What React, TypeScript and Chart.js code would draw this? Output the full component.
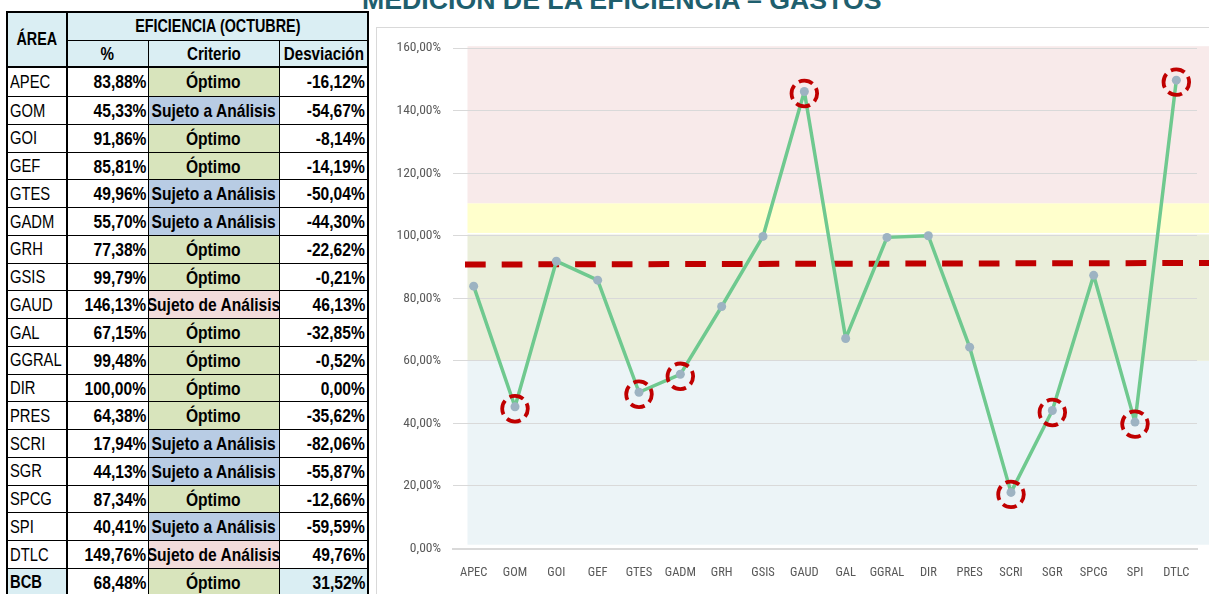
import React, { useEffect, useRef } from 'react';
import { Chart, registerables } from 'chart.js';

Chart.register(...registerables);

// ---------- DATA ----------
const areas = ['APEC', 'GOM', 'GOI', 'GEF', 'GTES', 'GADM', 'GRH', 'GSIS', 'GAUD', 'GAL', 'GGRAL', 'DIR', 'PRES', 'SCRI', 'SGR', 'SPCG', 'SPI', 'DTLC'];
const eficiencia = [83.88, 45.33, 91.86, 85.81, 49.96, 55.7, 77.38, 99.79, 146.13, 67.15, 99.48, 100.0, 64.38, 17.94, 44.13, 87.34, 40.41, 149.76];
const criterios = ['Óptimo', 'Sujeto a Análisis', 'Óptimo', 'Óptimo', 'Sujeto a Análisis', 'Sujeto a Análisis', 'Óptimo', 'Óptimo', 'Sujeto de Análisis', 'Óptimo', 'Óptimo', 'Óptimo', 'Óptimo', 'Sujeto a Análisis', 'Sujeto a Análisis', 'Óptimo', 'Sujeto a Análisis', 'Sujeto de Análisis'];
const desviaciones = [-16.12, -54.67, -8.14, -14.19, -50.04, -44.3, -22.62, -0.21, 46.13, -32.85, -0.52, 0.0, -35.62, -82.06, -55.87, -12.66, -59.59, 49.76];
const totalArea = 'BCB';
const totalPct = 68.48;
const totalCriterio = 'Óptimo';
const totalDesv = 31.52;

const yTicks = [0, 20, 40, 60, 80, 100, 120, 140, 160];
const bandLows = [1.2, 60, 100.9, 110.4];
const bandHighs = [60, 100.4, 110.4, 160.6];
const bandColors = ['#ECF4F7', '#EAEEDA', '#FFFFCC', '#F8EAEA'];
const refLine = [90.8, 91.3];
const OPTIMO = criterios[0];

const title = 'MEDICIÓN DE LA EFICIENCIA – GASTOS';

// ---------- STYLE ----------
const SANS = '"Liberation Sans", Arial, sans-serif';
const TICKFONT = '"Roboto Condensed", "Liberation Sans Narrow", "Liberation Sans", sans-serif';
const SQUEEZE = 0.82;
const critColor: Record<string, string> = {
  'Óptimo': '#D8E4BC',
  'Sujeto a Análisis': '#B8CCE4',
  'Sujeto de Análisis': '#F2DCDB',
};
const HEAD_BG = '#DAEEF3';

const fmtPct = (v: number) => v.toFixed(2).replace('.', ',') + '%';

const colX = [7, 66.7, 148.3, 279, 368];
const rowTop = (i: number) => (i === 0 ? 67 : 96.7 + (i - 1) * 27.75);
const rowBottom = (i: number) => 96.7 + i * 27.75;

function Cell(props: { x0: number; x1: number; y0: number; y1: number; bg?: string; align: 'left' | 'right' | 'center'; bold?: boolean; size: number; pad?: number; text: string }) {
  const { x0, x1, y0, y1, bg, align, bold, size, pad = 2, text } = props;
  const origin = align === 'left' ? 'left center' : align === 'right' ? 'right center' : 'center center';
  return (
    <div
      style={{
        position: 'absolute',
        left: x0,
        top: y0,
        width: x1 - x0,
        height: y1 - y0,
        background: bg || 'transparent',
        display: 'flex',
        alignItems: 'center',
        justifyContent: align === 'left' ? 'flex-start' : align === 'right' ? 'flex-end' : 'center',
        paddingLeft: align === 'left' ? pad : 0,
        paddingRight: align === 'right' ? pad : 0,
        boxSizing: 'border-box',
        fontFamily: SANS,
        fontSize: size,
        fontWeight: bold ? 700 : 400,
        color: '#000',
        whiteSpace: 'nowrap',
        overflow: 'hidden',
      }}
    >
      <span style={{ display: 'inline-block', flexShrink: 0, transform: `scaleX(${SQUEEZE})`, transformOrigin: origin, lineHeight: 1 }}>{text}</span>
    </div>
  );
}

function Line(props: { x: number; y: number; w: number; h: number }) {
  return <div style={{ position: 'absolute', left: props.x, top: props.y, width: props.w, height: props.h, background: '#000' }} />;
}

function Table() {
  const cells: React.ReactNode[] = [];
  const lines: React.ReactNode[] = [];
  const nRows = areas.length + 1;
  const tableBottom = rowBottom(nRows);

  cells.push(<Cell key="h-area" x0={colX[0]} x1={colX[1]} y0={12} y1={67} bg={HEAD_BG} align="center" bold size={17.5} text="ÁREA" />);
  cells.push(<Cell key="h-ef" x0={colX[1]} x1={colX[4]} y0={12} y1={40.5} bg={HEAD_BG} align="center" bold size={17.5} text="EFICIENCIA (OCTUBRE)" />);
  cells.push(<Cell key="h-p" x0={colX[1]} x1={colX[2]} y0={40.5} y1={67} bg={HEAD_BG} align="center" bold size={18.5} text="%" />);
  cells.push(<Cell key="h-c" x0={colX[2]} x1={colX[3]} y0={40.5} y1={67} bg={HEAD_BG} align="center" bold size={18.5} text="Criterio" />);
  cells.push(<Cell key="h-d" x0={colX[3]} x1={colX[4]} y0={40.5} y1={67} bg={HEAD_BG} align="center" bold size={18.5} text="Desviación" />);

  for (let i = 0; i < nRows; i++) {
    const isTotal = i === areas.length;
    const area = isTotal ? totalArea : areas[i];
    const pct = isTotal ? totalPct : eficiencia[i];
    const crit = isTotal ? totalCriterio : criterios[i];
    const desv = isTotal ? totalDesv : desviaciones[i];
    const y0 = rowTop(i);
    const y1 = rowBottom(i);
    cells.push(<Cell key={'a' + i} x0={colX[0]} x1={colX[1]} y0={y0} y1={y1} bg={isTotal ? HEAD_BG : undefined} align="left" bold={isTotal} size={18} pad={3} text={area} />);
    cells.push(<Cell key={'p' + i} x0={colX[1]} x1={colX[2]} y0={y0} y1={y1} align="right" bold size={19} pad={2} text={fmtPct(pct)} />);
    cells.push(<Cell key={'c' + i} x0={colX[2]} x1={colX[3]} y0={y0} y1={y1} bg={critColor[crit]} align="center" bold size={19} text={crit} />);
    cells.push(<Cell key={'d' + i} x0={colX[3]} x1={colX[4]} y0={y0} y1={y1} bg={isTotal ? HEAD_BG : undefined} align="right" bold size={19} pad={3} text={fmtPct(desv)} />);
  }

  lines.push(<Line key="ht" x={colX[0] - 1} y={11} w={colX[4] - colX[0] + 2} h={2} />);
  lines.push(<Line key="h1" x={colX[1]} y={40} w={colX[4] - colX[1]} h={1} />);
  lines.push(<Line key="h2" x={colX[0] - 1} y={66} w={colX[4] - colX[0] + 2} h={2} />);
  for (let i = 0; i < nRows; i++) {
    lines.push(<Line key={'hr' + i} x={colX[0] - 1} y={rowBottom(i) - 0.5} w={colX[4] - colX[0] + 2} h={1} />);
  }
  lines.push(<Line key="v0" x={colX[0] - 1} y={11} w={2} h={tableBottom - 11} />);
  lines.push(<Line key="v1" x={colX[1] - 1} y={11} w={2} h={tableBottom - 11} />);
  lines.push(<Line key="v2" x={colX[2] - 0.5} y={40} w={1} h={tableBottom - 40} />);
  lines.push(<Line key="v3" x={colX[3] - 0.5} y={40} w={1} h={tableBottom - 40} />);
  lines.push(<Line key="v4" x={colX[4] - 1} y={11} w={2} h={tableBottom - 11} />);

  return (
    <>
      {cells}
      {lines}
    </>
  );
}

const bandsPlugin = {
  id: 'bands',
  beforeDraw(chart: any) {
    const { ctx, chartArea } = chart;
    const y = chart.scales.y;
    const x0 = chartArea.left + 14.5;
    const x1 = chart.width;
    ctx.save();
    for (let i = 0; i < bandLows.length; i++) {
      const top = y.getPixelForValue(bandHighs[i]);
      const bot = y.getPixelForValue(bandLows[i]);
      ctx.fillStyle = bandColors[i];
      ctx.fillRect(x0, top, x1 - x0, bot - top);
    }
    ctx.restore();
  },
  beforeDatasetsDraw(chart: any) {
    const { ctx, chartArea } = chart;
    const y = chart.scales.y;
    const x0 = chartArea.left + 12;
    const x1 = chart.width;
    ctx.save();
    ctx.strokeStyle = '#C00000';
    ctx.lineWidth = 6;
    ctx.setLineDash([20.7, 16]);
    ctx.beginPath();
    ctx.moveTo(x0, y.getPixelForValue(refLine[0]));
    ctx.lineTo(x1, y.getPixelForValue(refLine[1]));
    ctx.stroke();
    ctx.restore();
  },
  afterDatasetsDraw(chart: any) {
    const { ctx } = chart;
    const xs = chart.scales.x;
    const ys = chart.scales.y;
    ctx.save();
    ctx.strokeStyle = '#C00000';
    ctx.lineWidth = 3.8;
    ctx.setLineDash([14.5, 5.6]);
    ctx.lineDashOffset = 6;
    for (let i = 0; i < eficiencia.length; i++) {
      if (criterios[i] === OPTIMO) continue;
      const px = xs.getPixelForValue(i);
      const py = ys.getPixelForValue(eficiencia[i]) + 2;
      ctx.beginPath();
      ctx.arc(px, py, 12.8, 0, Math.PI * 2);
      ctx.stroke();
    }
    ctx.restore();
  },
};

export default function App() {
  const ref = useRef<HTMLCanvasElement>(null);

  useEffect(() => {
    if (!ref.current) return;

    const chart = new Chart(ref.current, {
      type: 'line',
      data: {
        labels: areas,
        datasets: [
          {
            label: 'Eficiencia',
            data: eficiencia,
            borderColor: '#6FC98F',
            borderWidth: 3.5,
            borderJoinStyle: 'round',
            pointRadius: 4.5,
            pointHoverRadius: 4.5,
            pointBackgroundColor: '#9DB3C2',
            pointBorderColor: '#9DB3C2',
            pointBorderWidth: 0,
            tension: 0,
          },
        ] as any,
      },
      options: {
        animation: false,
        responsive: false,
        maintainAspectRatio: false,
        events: [],
        layout: { padding: { top: 14, right: 12, left: 0, bottom: 0 } },
        plugins: {
          legend: { display: false },
          tooltip: { enabled: false },
          title: { display: false },
        },
        scales: {
          x: {
            type: 'category',
            offset: true,
            grid: { display: false, drawTicks: false },
            border: { display: true, color: '#D9D9D9', width: 2 },
            ticks: {
              color: '#595959',
              font: { family: TICKFONT, size: 12.5 },
              padding: 17,
              maxRotation: 0,
              autoSkip: false,
            },
            afterFit: (s: any) => {
              s.height = 45.5;
            },
          },
          y: {
            min: yTicks[0],
            max: yTicks[yTicks.length - 1],
            afterBuildTicks: (s: any) => {
              s.ticks = yTicks.map((v) => ({ value: v }));
            },
            ticks: {
              color: '#595959',
              font: { family: TICKFONT, size: 13.5 },
              padding: 12,
              callback: (v: any) => fmtPct(Number(v)),
            },
            grid: { color: '#D9D9D9', drawTicks: false, lineWidth: 1 },
            border: { display: false },
            afterFit: (s: any) => {
              s.width = 76;
            },
          },
        },
      } as any,
      plugins: [bandsPlugin],
    });
    return () => chart.destroy();
  }, []);

  return (
    <div style={{ position: 'absolute', left: 0, top: 0, width: 1209, height: 594, overflow: 'hidden', background: '#fff' }}>
      <div
        style={{
          position: 'absolute',
          left: 362,
          top: -13,
          height: 27,
          lineHeight: '27px',
          fontFamily: SANS,
          fontWeight: 700,
          fontSize: 26.7,
          color: '#1F5F6E',
          whiteSpace: 'nowrap',
        }}
      >
        {title}
      </div>
      <Table />
      <div
        style={{
          position: 'absolute',
          left: 376,
          top: 26.5,
          width: 850,
          height: 600,
          border: '1.5px solid #D9D9D9',
          boxSizing: 'border-box',
          background: '#fff',
        }}
      />
      <canvas ref={ref} width={832} height={566} style={{ position: 'absolute', left: 377, top: 28, width: 832, height: 566 }} />
    </div>
  );
}
